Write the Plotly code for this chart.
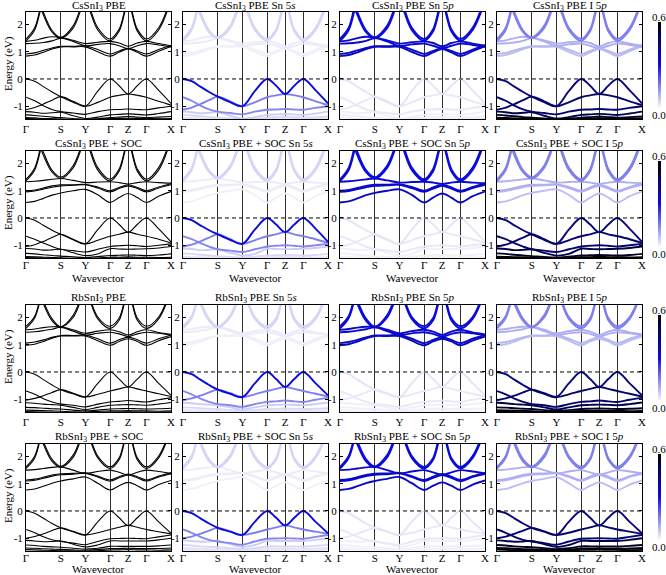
import plotly.graph_objects as go
from plotly.colors import sample_colorscale

FIG_W, FIG_H = 666, 575

# k-path sample positions (Γ, ..., S, ., Y, ., Γ, ., Z, ., Γ, ., X)
K = [0.0, 0.06, 0.12, 0.18, 0.24, 0.325, 0.41, 0.495, 0.58, 0.6425, 0.705, 0.7675, 0.83, 0.915, 1.0]
KTICK_POS = [0.0, 0.24, 0.41, 0.58, 0.705, 0.83, 1.0]
KTICK_TEXT = ['Γ', 'S', 'Y', 'Γ', 'Z', 'Γ', 'X']
YTICK_POS = [-1, 0, 1, 2]
YTICK_TEXT = ['-1', '0', '1', '2']

HI = [3.8] * 6
HI2 = [3.9] * 6

# band energies (eV), order: v1..v7, c1..c4, s1, s2, t1, t2
CS_PBE = [
    [0.00, -0.08, -0.28, -0.48, -0.65, -0.85, -1.00, -0.45, 0.00, -0.25, -0.55, -0.25, 0.00, -0.42, -0.90],
    [-0.67, -0.80, -0.98, -1.12, -1.20, -1.25, -1.30, -1.20, -1.13, -1.12, -1.10, -1.12, -1.13, -1.06, -1.00],
    [-1.13, -1.05, -0.92, -0.78, -0.65, -0.82, -1.00, -0.86, -0.67, -0.60, -0.55, -0.60, -0.67, -0.82, -0.96],
    [-1.20, -1.22, -1.26, -1.24, -1.22, -1.35, -1.45, -1.40, -1.32, -1.30, -1.28, -1.30, -1.32, -1.27, -1.20],
    [-1.32, -1.34, -1.37, -1.40, -1.42, -1.45, -1.48, -1.46, -1.42, -1.40, -1.38, -1.40, -1.42, -1.40, -1.38],
    [-1.42, -1.43, -1.45, -1.46, -1.47, -1.49, -1.50, -1.48, -1.45, -1.45, -1.44, -1.45, -1.45, -1.46, -1.45],
    [-1.45, -1.46, -1.47, -1.48, -1.49, -1.50, -1.51, -1.50, -1.47, -1.47, -1.46, -1.47, -1.47, -1.48, -1.47],
    [0.84, 0.88, 0.98, 1.10, 1.18, 1.18, 1.18, 1.00, 0.84, 0.98, 1.10, 0.98, 0.84, 1.02, 1.20],
    [0.92, 0.96, 1.05, 1.14, 1.20, 1.20, 1.21, 1.08, 0.92, 1.03, 1.13, 1.03, 0.92, 1.08, 1.24],
    [1.30, 1.31, 1.34, 1.40, 1.50, 1.38, 1.22, 1.27, 1.30, 1.22, 1.12, 1.22, 1.30, 1.25, 1.18],
    [1.38, 1.42, 1.50, 1.55, 1.52, 1.42, 1.30, 1.35, 1.38, 1.32, 1.20, 1.32, 1.38, 1.30, 1.22],
    [1.40, 1.80, 2.90, 3.50, 3.80, 3.50, 2.90, 1.80, 1.40, 1.75, 2.75, 1.75, 1.40, 1.80, 2.90],
    [1.47, 1.88, 3.00, 3.50, 3.80, 3.50, 3.00, 1.88, 1.47, 1.83, 2.85, 1.83, 1.47, 1.88, 3.00],
    [3.60, 3.20, 2.35, 1.72, 1.50, 1.87, 2.95, 3.50, 3.80] + HI,
    [3.70, 3.30, 2.45, 1.78, 1.53, 1.95, 3.05, 3.60, 3.90] + HI2,
]

CS_SOC = [
    [0.00, -0.08, -0.27, -0.45, -0.60, -0.80, -0.95, -0.43, 0.00, -0.24, -0.52, -0.24, 0.00, -0.40, -0.88],
    [-0.67, -0.78, -0.92, -1.05, -1.15, -1.20, -1.25, -1.15, -1.05, -1.02, -1.00, -1.02, -1.05, -1.00, -0.95],
    [-1.05, -0.98, -0.86, -0.72, -0.60, -0.78, -0.95, -0.82, -0.67, -0.60, -0.52, -0.60, -0.67, -0.78, -0.92],
    [-1.12, -1.14, -1.18, -1.17, -1.15, -1.28, -1.38, -1.32, -1.13, -1.14, -1.15, -1.14, -1.13, -1.10, -1.05],
    [-1.30, -1.32, -1.35, -1.38, -1.40, -1.43, -1.45, -1.42, -1.38, -1.37, -1.36, -1.37, -1.38, -1.36, -1.32],
    [-1.42, -1.43, -1.44, -1.45, -1.46, -1.48, -1.49, -1.47, -1.44, -1.44, -1.43, -1.44, -1.44, -1.45, -1.44],
    [-1.45, -1.46, -1.47, -1.48, -1.49, -1.50, -1.51, -1.50, -1.47, -1.47, -1.46, -1.47, -1.47, -1.48, -1.47],
    [0.57, 0.61, 0.72, 0.84, 0.92, 1.00, 1.05, 0.85, 0.57, 0.75, 0.90, 0.75, 0.57, 0.80, 0.97],
    [0.96, 0.99, 1.06, 1.13, 1.18, 1.20, 1.22, 1.10, 0.96, 1.08, 1.18, 1.08, 0.96, 1.10, 1.22],
    [1.00, 1.03, 1.10, 1.18, 1.22, 1.22, 1.23, 1.14, 1.00, 1.12, 1.22, 1.12, 1.00, 1.14, 1.26],
    [1.33, 1.35, 1.38, 1.42, 1.45, 1.38, 1.30, 1.32, 1.33, 1.30, 1.25, 1.30, 1.33, 1.30, 1.28],
    [1.36, 1.76, 2.86, 3.50, 3.80, 3.50, 2.88, 1.76, 1.36, 1.72, 2.72, 1.72, 1.36, 1.76, 2.88],
    [1.42, 1.84, 2.96, 3.50, 3.80, 3.50, 2.98, 1.85, 1.42, 1.80, 2.82, 1.80, 1.42, 1.85, 2.98],
    [3.60, 3.20, 2.30, 1.68, 1.45, 1.84, 2.90, 3.50, 3.80] + HI,
    [3.70, 3.30, 2.42, 1.75, 1.50, 1.92, 3.00, 3.60, 3.90] + HI2,
]

RB_PBE = [
    [0.00, -0.08, -0.28, -0.48, -0.65, -0.80, -0.92, -0.42, 0.00, -0.26, -0.55, -0.26, 0.00, -0.42, -0.86],
    [-0.70, -0.82, -0.98, -1.10, -1.18, -1.22, -1.28, -1.18, -1.10, -1.08, -1.05, -1.08, -1.10, -1.02, -0.95],
    [-1.04, -0.97, -0.87, -0.75, -0.65, -0.78, -0.92, -0.82, -0.70, -0.62, -0.55, -0.62, -0.70, -0.80, -0.90],
    [-1.13, -1.15, -1.18, -1.20, -1.22, -1.30, -1.38, -1.30, -1.22, -1.21, -1.20, -1.21, -1.22, -1.18, -1.12],
    [-1.30, -1.31, -1.33, -1.35, -1.36, -1.40, -1.43, -1.40, -1.36, -1.35, -1.34, -1.35, -1.36, -1.35, -1.33],
    [-1.40, -1.41, -1.42, -1.43, -1.44, -1.46, -1.47, -1.45, -1.43, -1.43, -1.42, -1.43, -1.43, -1.44, -1.43],
    [-1.45, -1.46, -1.47, -1.48, -1.49, -1.50, -1.51, -1.50, -1.47, -1.47, -1.46, -1.47, -1.47, -1.48, -1.47],
    [0.98, 1.02, 1.12, 1.24, 1.32, 1.32, 1.32, 1.15, 0.98, 1.12, 1.22, 1.12, 0.98, 1.15, 1.30],
    [1.06, 1.10, 1.18, 1.27, 1.34, 1.34, 1.35, 1.22, 1.06, 1.18, 1.28, 1.18, 1.06, 1.22, 1.36],
    [1.46, 1.48, 1.52, 1.57, 1.64, 1.50, 1.36, 1.42, 1.46, 1.40, 1.30, 1.40, 1.46, 1.42, 1.35],
    [1.55, 1.58, 1.63, 1.66, 1.66, 1.55, 1.42, 1.50, 1.55, 1.48, 1.36, 1.48, 1.55, 1.45, 1.38],
    [1.60, 1.98, 3.00, 3.50, 3.80, 3.50, 3.00, 1.95, 1.60, 1.90, 2.90, 1.90, 1.60, 1.95, 3.00],
    [1.68, 2.05, 3.10, 3.60, 3.90, 3.60, 3.10, 2.02, 1.68, 1.98, 3.00, 1.98, 1.68, 2.02, 3.10],
    [3.60, 3.30, 2.50, 1.88, 1.64, 2.00, 3.00, 3.50, 3.80] + HI,
    [3.70, 3.40, 2.60, 1.95, 1.66, 2.08, 3.10, 3.60, 3.90] + HI2,
]

RB_SOC = [
    [0.00, -0.08, -0.27, -0.46, -0.62, -0.76, -0.88, -0.40, 0.00, -0.25, -0.53, -0.25, 0.00, -0.40, -0.82],
    [-0.68, -0.80, -0.95, -1.06, -1.12, -1.18, -1.24, -1.12, -1.02, -1.01, -1.00, -1.01, -1.02, -0.95, -0.88],
    [-1.00, -0.94, -0.84, -0.72, -0.62, -0.75, -0.88, -0.80, -0.68, -0.60, -0.53, -0.60, -0.68, -0.76, -0.84],
    [-1.08, -1.10, -1.13, -1.12, -1.10, -1.22, -1.32, -1.25, -1.10, -1.10, -1.10, -1.10, -1.10, -1.06, -1.00],
    [-1.25, -1.27, -1.30, -1.32, -1.33, -1.37, -1.40, -1.37, -1.30, -1.30, -1.30, -1.30, -1.30, -1.28, -1.25],
    [-1.36, -1.37, -1.39, -1.40, -1.41, -1.43, -1.44, -1.42, -1.38, -1.38, -1.37, -1.38, -1.38, -1.38, -1.36],
    [-1.42, -1.43, -1.44, -1.45, -1.46, -1.47, -1.48, -1.46, -1.43, -1.43, -1.42, -1.43, -1.43, -1.44, -1.43],
    [0.77, 0.81, 0.91, 1.02, 1.10, 1.18, 1.25, 1.02, 0.77, 0.93, 1.05, 0.93, 0.77, 0.97, 1.12],
    [1.10, 1.13, 1.20, 1.28, 1.33, 1.35, 1.38, 1.25, 1.10, 1.22, 1.32, 1.22, 1.10, 1.25, 1.36],
    [1.14, 1.17, 1.24, 1.32, 1.37, 1.38, 1.40, 1.28, 1.14, 1.26, 1.36, 1.26, 1.14, 1.28, 1.40],
    [1.50, 1.52, 1.56, 1.60, 1.62, 1.50, 1.38, 1.45, 1.50, 1.42, 1.32, 1.42, 1.50, 1.45, 1.38],
    [1.56, 1.95, 3.00, 3.50, 3.80, 3.50, 3.00, 1.95, 1.56, 1.88, 2.90, 1.88, 1.56, 1.95, 3.00],
    [1.62, 2.02, 3.10, 3.60, 3.90, 3.60, 3.10, 2.02, 1.62, 1.95, 3.00, 1.95, 1.62, 2.02, 3.10],
    [3.60, 3.30, 2.45, 1.82, 1.60, 1.97, 3.00, 3.50, 3.80] + HI,
    [3.70, 3.40, 2.55, 1.90, 1.64, 2.05, 3.10, 3.60, 3.90] + HI2,
]

# orbital weights per band (same band order)
W_SN5S = [0.30, 0.14, 0.15, 0.05, 0.035, 0.02, 0.02, 0.005, 0.005, 0.01, 0.01, 0.04, 0.04, 0.04, 0.04]
W_SN5P = [0.02, 0.015, 0.015, 0.005, 0.005, 0.003, 0.003, 0.34, 0.33, 0.32, 0.32, 0.31, 0.31, 0.30, 0.30]
W_I5P = [0.43, 0.45, 0.45, 0.50, 0.55, 0.58, 0.60, 0.07, 0.08, 0.09, 0.09, 0.15, 0.15, 0.15, 0.15]

SYSTEMS = [CS_PBE, CS_SOC, RB_PBE, RB_SOC]
ROW_TITLES = ['CsSnI<sub>3</sub> PBE', 'CsSnI<sub>3</sub> PBE + SOC',
              'RbSnI<sub>3</sub> PBE', 'RbSnI<sub>3</sub> PBE + SOC']
COL_SUFFIX = ['', ' Sn 5<i>s</i>', ' Sn 5<i>p</i>', ' I 5<i>p</i>']
COL_WEIGHTS = [None, W_SN5S, W_SN5P, W_I5P]
WMAX = 0.6

CSCALE = [[0.0, 'rgb(244,244,250)'], [0.5, 'rgb(10,10,225)'], [1.0, 'rgb(0,0,0)']]

COL_L = [26, 183, 340, 497]
PW = 145
ROW_T = [12, 151, 305, 444]
PH = 107
WAVE_OFF = {1: 20, 3: 18}
LABEL_SHIFT = [0, -3, 0, -3]
TITLE_OFF = [6, 7, 7, 7]
YRANGE = [-1.47, 2.46]

FONT = 'Liberation Serif'

fig = go.Figure()
layout = {}
shapes = []
annotations = []


def px_x(p):
    return p / FIG_W


def px_y(p):
    return 1 - p / FIG_H


for r in range(4):
    bands = SYSTEMS[r]
    for c in range(4):
        n = r * 4 + c + 1
        xs = 'x' if n == 1 else f'x{n}'
        ys = 'y' if n == 1 else f'y{n}'
        xa = 'xaxis' if n == 1 else f'xaxis{n}'
        ya = 'yaxis' if n == 1 else f'yaxis{n}'
        l, t = COL_L[c], ROW_T[r]
        layout[xa] = dict(domain=[px_x(l), px_x(l + PW)], range=[0, 1], anchor=ys,
                          tickvals=KTICK_POS, ticktext=KTICK_TEXT, ticks='',
                          ticklabelstandoff=LABEL_SHIFT[r],
                          showgrid=True, gridcolor='#303030', gridwidth=1.1,
                          showline=True, mirror=True, linecolor='black', linewidth=1,
                          zeroline=False, tickfont=dict(family=FONT, size=11, color='black'))
        layout[ya] = dict(domain=[px_y(t + PH), px_y(t)], range=YRANGE, anchor=xs,
                          tickvals=YTICK_POS, ticktext=YTICK_TEXT, ticks='inside',
                          ticklen=3, tickcolor='black', showgrid=False,
                          showline=True, mirror='ticks', linecolor='black', linewidth=1,
                          zeroline=False, tickfont=dict(family=FONT, size=11, color='black'))
        weights = COL_WEIGHTS[c]
        order = list(range(len(bands)))
        if weights is not None:
            order.sort(key=lambda i: weights[i])
        for i in order:
            if weights is None:
                col, lw = 'black', 1.1
            else:
                col = sample_colorscale(CSCALE, [min(weights[i] / WMAX, 1.0)])[0]
                lw = 1.9
            fig.add_trace(go.Scatter(x=K, y=bands[i], mode='lines',
                                     line=dict(color=col, width=lw, shape='spline'),
                                     xaxis=xs, yaxis=ys, hoverinfo='skip', showlegend=False))
        shapes.append(dict(type='line', xref=xs, yref=ys, x0=0, x1=1, y0=0, y1=0,
                           line=dict(color='black', width=1, dash='4px,3px')))
        annotations.append(dict(text=ROW_TITLES[r] + COL_SUFFIX[c], xref='paper', yref='paper',
                                x=px_x(l + PW / 2), y=px_y(t - TITLE_OFF[r]), showarrow=False,
                                xanchor='center', yanchor='middle',
                                font=dict(family=FONT, size=11, color='black')))
        if r in WAVE_OFF:
            annotations.append(dict(text='Wavevector', xref='paper', yref='paper',
                                    x=px_x(l + PW / 2), y=px_y(t + PH + WAVE_OFF[r]), showarrow=False,
                                    xanchor='center', yanchor='middle',
                                    font=dict(family=FONT, size=11, color='black')))
    # y title
    annotations.append(dict(text='Energy (eV)', xref='paper', yref='paper',
                            x=px_x(8), y=px_y(ROW_T[r] + 52), showarrow=False, textangle=-90,
                            xanchor='center', yanchor='middle',
                            font=dict(family=FONT, size=11, color='black')))
    # colorbar for row
    ca = 'coloraxis' if r == 0 else f'coloraxis{r + 1}'
    n4 = r * 4 + 4
    fig.add_trace(go.Scatter(x=[0.5], y=[-9], mode='markers',
                             marker=dict(color=[0.3], coloraxis=ca, size=2),
                             xaxis=f'x{n4}', yaxis=f'y{n4}', hoverinfo='skip', showlegend=False))
    layout[ca] = dict(colorscale=CSCALE, cmin=0, cmax=WMAX,
                      colorbar=dict(x=px_x(658), xanchor='left', y=px_y(ROW_T[r] + 10), yanchor='top',
                                    len=PH - 22, lenmode='pixels', thickness=3, thicknessmode='pixels',
                                    outlinewidth=0, showticklabels=False, ticks='', xpad=0, ypad=0,
                                    title=dict(text='')))
    annotations.append(dict(text='0.6', xref='paper', yref='paper', x=px_x(658.5), y=px_y(ROW_T[r] + 5),
                            showarrow=False, xanchor='center', yanchor='middle',
                            font=dict(family=FONT, size=11, color='black')))
    annotations.append(dict(text='0.0', xref='paper', yref='paper', x=px_x(658.5), y=px_y(ROW_T[r] + PH - 4),
                            showarrow=False, xanchor='center', yanchor='middle',
                            font=dict(family=FONT, size=11, color='black')))

fig.update_layout(width=FIG_W, height=FIG_H,
                  margin=dict(l=0, r=0, t=0, b=0, pad=0, autoexpand=False),
                  paper_bgcolor='white', plot_bgcolor='white', showlegend=False,
                  shapes=shapes, annotations=annotations, **layout)

fig.write_html('out.html', config={'displayModeBar': False},
               post_script="document.body.style.margin='0';document.body.style.overflow='hidden';")
